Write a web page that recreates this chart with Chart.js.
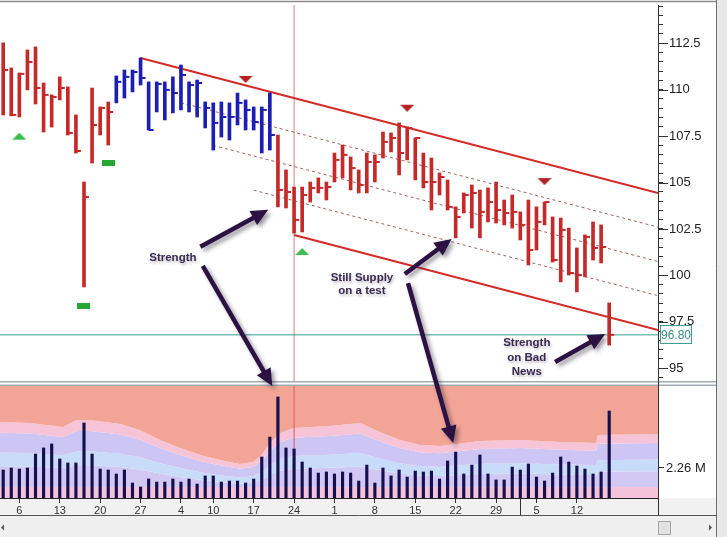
<!DOCTYPE html>
<html>
<head>
<meta charset="utf-8">
<script src="https://cdn.jsdelivr.net/npm/chart.js@4.4.0/dist/chart.umd.min.js"></script>
<style>
html, body { margin:0; padding:0; background:#fff; overflow:hidden; }
#wrap { position:relative; width:727px; height:537px; }
</style>
</head>
<body>
<div id="wrap"><canvas id="chart" width="727" height="537"></canvas></div>
<script>
// one entry per trading day, bar index 0..75
var highs = [112.52,111.17,110.90,112.14,112.30,110.36,109.72,110.69,110.15,108.64,105.03,110.09,109.07,109.34,
  110.74,111.06,111.06,111.71,110.42,110.42,110.42,110.69,111.33,110.42,110.52,109.34,109.29,109.34,109.29,109.82,109.45,109.07,109.07,109.82,
  107.56,105.68,104.76,104.76,105.03,105.25,105.03,106.59,107.02,106.38,105.68,106.59,106.49,107.72,107.67,108.21,107.99,107.40,106.59,106.32,105.52,105.14,
  103.69,104.44,104.87,104.60,104.71,105.03,104.06,104.33,103.42,104.06,103.69,103.95,103.15,103.09,102.55,101.48,102.18,102.88,102.72,98.52]
var lows = [108.64,108.59,108.53,109.99,109.23,107.72,107.99,109.45,107.56,106.59,99.38,106.05,107.56,107.02,
  109.29,109.55,109.88,110.25,107.83,108.80,108.37,108.75,108.91,108.80,108.53,107.94,106.75,107.45,107.29,108.10,107.83,107.83,106.59,106.75,
  103.69,103.63,102.28,102.34,103.95,104.44,104.06,105.03,105.25,104.60,104.44,104.44,105.03,106.32,106.65,105.41,106.22,105.14,104.71,103.52,104.33,103.52,
  102.02,103.36,102.55,102.02,102.88,102.82,102.72,102.55,101.91,100.56,101.37,102.72,100.72,99.65,100.02,99.11,99.92,100.83,100.67,96.25]
var closes = [111.06,108.64,110.85,111.49,110.09,109.72,109.61,110.09,107.67,106.70,104.22,108.10,109.02,108.80,
  110.42,110.69,110.95,110.63,107.83,110.31,109.99,109.82,110.79,110.25,110.36,109.02,108.21,108.53,108.53,109.29,108.91,108.26,108.91,107.56,
  104.60,104.49,102.99,104.33,104.71,104.71,104.76,106.22,106.49,105.78,104.87,106.11,106.11,107.19,107.40,106.59,107.94,107.40,105.03,105.03,105.30,103.69,
  103.15,104.33,104.44,103.42,103.95,103.52,103.36,103.42,102.72,101.37,102.88,103.95,100.83,102.45,100.13,100.02,102.07,101.48,101.53,96.80]
// volume in millions
var volumes = [2.11,2.26,2.18,2.26,3.31,3.77,4.07,2.94,2.64,2.64,5.65,3.31,2.18,2.11,1.81,2.11,1.13,0.83,1.43,1.20,
  1.20,1.43,1.20,1.43,1.05,1.66,1.66,1.20,1.28,1.28,1.13,1.43,3.09,4.59,7.61,3.77,3.69,2.71,2.26,1.88,
  1.96,1.81,1.96,1.88,1.28,2.48,1.13,2.26,1.66,2.11,1.58,2.03,1.96,2.03,1.43,2.79,3.46,1.81,2.48,3.24,
  1.81,1.36,1.36,2.33,2.11,2.56,1.58,1.28,1.88,3.09,2.71,2.41,2.18,1.81,1.96,6.55]

var blueFrom = 14, blueTo = 33          // bars painted blue
var dateTickIdx = [2,7,12,17,22,26,31,36,41,46,51,56,61,66,71]
var dateTickLabels = ['6','13','20','27','4','10','17','24','1','8','15','22','29','5','12']
var monthStartIdx = 64
var markerDayIdx = 36
var lastPrice = 96.80
var volTickValue = 2.26
var volTickLabel = '2.26 M'

// trend channel: top, 1/4, 1/2, 3/4, bottom
var channelStartIdx = [17, 22, 26, 31, 36]
var channelStartPrice = [111.71, 109.30, 107.00, 104.59, 102.18]
var channelEndPrice = [104.44, 102.60, 100.75, 98.91, 97.06]

// volume background bands (millions), sampled along the bar index
var bandIdx = [-0.4,3.3,7.4,9.1,10.7,14.5,16.9,19.4,21.9,24.4,26.8,29.3,30.9,32.0,33.0,34.3,35.9,40.4,44.2,46.6,49.1,51.6,54.1,59.0,64.0,68.9,73.4,73.6,81.04]
var bandSalmon = [5.72,5.65,5.35,5.87,5.87,5.57,5.12,4.37,3.77,3.24,2.86,2.56,2.71,3.24,4.14,4.89,5.27,5.42,5.65,4.97,4.37,3.99,3.92,4.29,4.37,4.22,4.14,4.74,4.82]
var bandPink = [4.92,4.86,4.60,5.05,5.05,4.79,4.40,3.76,3.24,2.79,2.46,2.20,2.33,2.79,3.56,4.21,4.53,4.66,4.86,4.27,3.76,3.43,3.37,3.69,3.76,3.63,3.56,4.08,4.15]
var bandLav = [3.43,3.39,3.21,3.52,3.52,3.34,3.07,2.62,2.26,1.94,1.72,1.54,1.63,1.94,2.48,2.93,3.16,3.25,3.39,2.98,2.62,2.39,2.35,2.57,2.62,2.53,2.48,2.84,2.89]
var bandBlue = [2.40,2.37,2.25,2.47,2.47,2.34,2.15,1.84,1.58,1.36,1.20,1.08,1.14,1.36,1.74,2.05,2.21,2.28,2.37,2.09,1.84,1.68,1.65,1.80,1.84,1.77,1.74,1.99,2.02]
var bandBase = 0.83

// signal markers
var upMarks = [{x:2, y:107.47}, {x:37, y:101.26}]
var downMarks = [{x:30, y:110.58}, {x:50, y:109.03}, {x:67, y:105.08}]
var stopMarks = [{x:13, y:106.03}, {x:10, y:98.36}]

// notes, anchored in bar index / price (or volume on 'yv')
var notes = [
  {lines:['Strength'], x:21.0, y:100.94, gap:14},
  {lines:['Still Supply', 'on a test'], x:44.4, y:99.86, gap:13},
  {lines:['Strength', 'on Bad', 'News'], x:64.8, y:96.36, gap:14.5}
]
var arrows = [
  {from:{x:24.4, y:101.54}, to:{x:32.8, y:103.53}},
  {from:{x:24.7, y:100.51}, to:{x:33.3, y:8.43, a:'yv'}},
  {from:{x:49.7, y:100.08}, to:{x:55.5, y:101.96}},
  {from:{x:50.1, y:99.59}, to:{x:55.7, y:4.14, a:'yv'}},
  {from:{x:68.3, y:95.34}, to:{x:74.5, y:96.85}}
]

var xMin = -0.396, xMax = 81.04
var priceMin = 94.315, priceMax = 114.56
var volMax = 8.81

Chart.defaults.font.family = '"Liberation Sans", Arial, sans-serif'

function barColor(i){
  return (i >= blueFrom && i <= blueTo) ? '#1d1fb2' : '#c42a2a'
}
function isMajor(v){
  return Math.abs(v/2.5 - Math.round(v/2.5)) < 1e-6
}
function pts(xs, ys){
  var out = []
  for (var k = 0; k < xs.length; k++) out.push({x: xs[k], y: ys[k]})
  return out
}
function markImg(kind){
  var c = document.createElement('canvas')
  var g = c.getContext('2d')
  if (kind == 'rect'){
    c.width = 13; c.height = 6
    g.fillStyle = '#27a834'; g.fillRect(0, 0, 13, 6)
  } else {
    c.width = 14; c.height = 8
    g.beginPath()
    if (kind == 'up'){ g.moveTo(0,7); g.lineTo(14,7); g.lineTo(7,0); g.fillStyle = '#3dbb4c' }
    else { g.moveTo(0,1); g.lineTo(14,1); g.lineTo(7,8); g.fillStyle = '#b42222' }
    g.closePath(); g.fill()
  }
  return c
}

var rangeData = [], closeData = [], volData = []
for (var i = 0; i < highs.length; i++){
  rangeData.push({x:i, y:[lows[i], highs[i]]})
  closeData.push({x:i, y:closes[i]})
  volData.push({x:i, y:volumes[i]})
}

var datasets = []
// volume bands (consecutive, filled one onto the next)
var bandColors = ['#f2a596', '#f6c4d6', '#cdc5f3', '#c8dcf9', '#d1c9f4', '#f4c3da']
var bandSeries = [bandSalmon, bandPink, bandLav, bandBlue]
var bandFill = ['end', '-1', '-1', '-1']
for (var b = 0; b < bandSeries.length; b++){
  datasets.push({type:'line', yAxisID:'yv', data: pts(bandIdx, bandSeries[b]), fill: bandFill[b],
    backgroundColor: bandColors[b], borderWidth:0, pointRadius:0, order:20})
}
datasets.push({type:'line', yAxisID:'yv', data: pts([xMin, xMax], [bandBase, bandBase]), fill:'-1',
  backgroundColor: bandColors[4], borderWidth:0, pointRadius:0, order:20})
datasets.push({type:'line', yAxisID:'yv', data: pts([xMin, xMax], [bandBase, bandBase]), fill:'start',
  backgroundColor: bandColors[5], borderWidth:0, pointRadius:0, order:20})

// vertical marker day line in both panes
datasets.push({type:'line', yAxisID:'y', data: pts([markerDayIdx, markerDayIdx], [priceMin, priceMax]),
  borderColor:'#e07a7a', borderWidth:1, pointRadius:0, order:16})
datasets.push({type:'line', yAxisID:'yv', data: pts([markerDayIdx, markerDayIdx], [0, volMax]),
  borderColor:'#e05a5a', borderWidth:1, pointRadius:0, order:16})

// last price line
datasets.push({type:'line', yAxisID:'y', data: pts([xMin, xMax], [lastPrice, lastPrice]),
  borderColor:'#3c9e90', borderWidth:1, pointRadius:0, order:15})

// channel
for (var c = 0; c < channelStartIdx.length; c++){
  var solid = (c == 0 || c == channelStartIdx.length - 1)
  datasets.push({type:'line', yAxisID:'y', data: pts([channelStartIdx[c], xMax], [channelStartPrice[c], channelEndPrice[c]]),
    borderColor: solid ? '#d42a28' : 'rgba(150,70,70,0.85)', borderWidth: solid ? 2 : 1,
    borderDash: solid ? [] : [3,3], pointRadius:0, order: solid ? 9 : 12})
}

datasets.push({type:'bar', yAxisID:'yv', data: volData, backgroundColor:'#15104d', barThickness:2.5, grouped:false, order:10})
datasets.push({type:'bar', yAxisID:'y', data: rangeData, backgroundColor: function(ctx){ return barColor(ctx.dataIndex) },
  barThickness:3, grouped:false, order:8})
datasets.push({type:'line', yAxisID:'y', data: closeData, showLine:false, pointStyle:'dash', pointRadius:5, pointHoverRadius:5,
  pointBorderWidth:2, pointBorderColor: function(ctx){ return barColor(ctx.dataIndex) }, order:7})

datasets.push({type:'line', yAxisID:'y', data: upMarks, showLine:false, pointStyle: markImg('up'), order:5})
datasets.push({type:'line', yAxisID:'y', data: downMarks, showLine:false, pointStyle: markImg('down'), order:5})
datasets.push({type:'line', yAxisID:'y', data: stopMarks, showLine:false, pointStyle: markImg('rect'), order:5})

function toPx(chart, p){
  return [chart.scales.x.getPixelForValue(p.x), chart.scales[p.a || 'y'].getPixelForValue(p.y)]
}
function drawArrow(ctx, a, b){
  var ang = Math.atan2(b[1]-a[1], b[0]-a[0]), head = 17, hw = 8
  var bx = b[0] - Math.cos(ang)*head, by = b[1] - Math.sin(ang)*head
  ctx.beginPath(); ctx.moveTo(a[0], a[1]); ctx.lineTo(bx + Math.cos(ang)*2, by + Math.sin(ang)*2)
  ctx.lineWidth = 4.5; ctx.strokeStyle = '#2c1243'; ctx.lineCap = 'butt'; ctx.stroke()
  ctx.beginPath(); ctx.moveTo(b[0], b[1])
  ctx.lineTo(bx + Math.sin(ang)*hw, by - Math.cos(ang)*hw)
  ctx.lineTo(bx - Math.sin(ang)*hw, by + Math.cos(ang)*hw)
  ctx.closePath(); ctx.fillStyle = '#2c1243'; ctx.fill()
}

var chromePlugin = {
  id: 'chrome',
  beforeDraw: function(chart){
    var ctx = chart.ctx
    ctx.save()
    ctx.fillStyle = '#ffffff'; ctx.fillRect(0, 0, 727, 537)
    ctx.fillStyle = '#f1f1f1'; ctx.fillRect(0, 498, 717, 17)
    ctx.fillStyle = '#efefef'; ctx.fillRect(0, 515, 717, 22)
    ctx.fillStyle = '#e8e8e8'; ctx.fillRect(717, 0, 10, 537)
    ctx.restore()
  },
  afterDraw: function(chart){
    var ctx = chart.ctx, ys = chart.scales.y, xs = chart.scales.x
    ctx.save()
    // longer major price ticks
    ctx.strokeStyle = '#333'; ctx.lineWidth = 1
    ys.ticks.forEach(function(t){
      if (!isMajor(t.value)) return
      var y = Math.round(ys.getPixelForValue(t.value)) + 0.5
      ctx.beginPath(); ctx.moveTo(658, y); ctx.lineTo(668, y); ctx.stroke()
    })
    // pane separator
    ctx.fillStyle = '#ffffff'; ctx.fillRect(0, 381, 717, 5)
    ctx.strokeStyle = '#a3acb4'; ctx.lineWidth = 1.5
    ctx.beginPath(); ctx.moveTo(0, 381.8); ctx.lineTo(717, 381.8); ctx.stroke()
    ctx.beginPath(); ctx.moveTo(0, 385.2); ctx.lineTo(717, 385.2); ctx.stroke()
    // frame
    ctx.strokeStyle = '#8a8a8a'; ctx.lineWidth = 1.5
    ctx.beginPath(); ctx.moveTo(0, 1.5); ctx.lineTo(717, 1.5); ctx.stroke()
    ctx.strokeStyle = '#6f6f6f'; ctx.lineWidth = 1
    ctx.beginPath(); ctx.moveTo(716.5, 0); ctx.lineTo(716.5, 537); ctx.stroke()
    ctx.strokeStyle = '#555'
    ctx.beginPath(); ctx.moveTo(0, 515.5); ctx.lineTo(717, 515.5); ctx.stroke()
    ctx.strokeStyle = '#333'
    ctx.beginPath(); ctx.moveTo(658.5, 381); ctx.lineTo(658.5, 515); ctx.stroke()
    var mx = Math.round(xs.getPixelForValue(monthStartIdx)) + 0.5
    ctx.beginPath(); ctx.moveTo(mx, 498); ctx.lineTo(mx, 515); ctx.stroke()
    // scroll bar
    ctx.fillStyle = '#e2e2e2'; ctx.fillRect(658, 521, 13, 14)
    ctx.strokeStyle = '#a8a8a8'; ctx.strokeRect(658.5, 521.5, 12, 13)
    ctx.fillStyle = '#555'
    ctx.beginPath(); ctx.moveTo(709, 524.5); ctx.lineTo(712, 527.5); ctx.lineTo(709, 530.5); ctx.fill()
    ctx.beginPath(); ctx.moveTo(4, 524.5); ctx.lineTo(1, 527.5); ctx.lineTo(4, 530.5); ctx.fill()
    // last price box
    var ly = ys.getPixelForValue(lastPrice)
    ctx.fillStyle = '#ffffff'; ctx.fillRect(660, ly - 9.5, 32, 19)
    ctx.strokeStyle = '#3c9e90'; ctx.strokeRect(660.5, Math.round(ly - 9.5) + 0.5, 31, 18)
    ctx.fillStyle = '#3a8f86'; ctx.font = '12px "Liberation Sans", Arial, sans-serif'
    ctx.textAlign = 'center'; ctx.textBaseline = 'middle'
    ctx.fillText(lastPrice.toFixed(2), 676, ly + 0.5)
    // notes and arrows
    ctx.shadowColor = 'rgba(40,30,50,0.45)'; ctx.shadowBlur = 4; ctx.shadowOffsetX = 3; ctx.shadowOffsetY = 3
    arrows.forEach(function(ar){ drawArrow(ctx, toPx(chart, ar.from), toPx(chart, ar.to)) })
    ctx.shadowColor = 'rgba(60,50,70,0.35)'; ctx.shadowBlur = 3; ctx.shadowOffsetX = 1; ctx.shadowOffsetY = 2
    ctx.font = 'bold 11.5px "Liberation Sans", Arial, sans-serif'
    ctx.fillStyle = '#3b2c52'
    notes.forEach(function(n){
      var p = toPx(chart, n)
      n.lines.forEach(function(s, k){ ctx.fillText(s, p[0], p[1] + k*n.gap) })
    })
    ctx.restore()
  }
}

new Chart(document.getElementById('chart'), {
  type: 'bar',
  data: { datasets: datasets },
  plugins: [chromePlugin],
  options: {
    responsive: false, animation: false, devicePixelRatio: 1, events: [],
    layout: { autoPadding: false, padding: { left:0, right:11, top:5, bottom:22 } },
    plugins: { legend: { display:false }, tooltip: { enabled:false } },
    scales: {
      x: {
        type:'linear', position:'bottom', min:xMin, max:xMax, offset:false,
        grid: { drawOnChartArea:false, offset:false, tickLength:5, tickColor:'#333' },
        border: { color:'#222' },
        afterBuildTicks: function(s){ s.ticks = dateTickIdx.map(function(v){ return {value:v} }) },
        ticks: { autoSkip:false, maxRotation:0, padding:1, color:'#333', font:{size:11},
          callback: function(v, k){ return dateTickLabels[k] } },
        afterFit: function(s){ s.height = 17; s.paddingLeft = 0; s.paddingRight = 0 }
      },
      y: {
        type:'linear', position:'right', stack:'pane', stackWeight:376, min:priceMin, max:priceMax, offset:false,
        grid: { drawOnChartArea:false, tickLength:5, tickColor:'#333' },
        border: { color:'#333' },
        ticks: { stepSize:0.5, autoSkip:false, includeBounds:false, padding:6, color:'#222', font:{size:13},
          callback: function(v){ return isMajor(v) ? String(Math.round(v*10)/10) : '' } },
        afterFit: function(s){ s.width = 58; s.paddingTop = 0; s.paddingBottom = 0 }
      },
      yv: {
        type:'linear', position:'right', stack:'pane', stackWeight:117, min:0, max:volMax, offset:false,
        grid: { drawOnChartArea:false, tickLength:6, tickColor:'#333' },
        border: { color:'#333' },
        afterBuildTicks: function(s){ s.ticks = [{value: volTickValue}] },
        ticks: { padding:2, color:'#222', font:{size:13}, callback: function(){ return volTickLabel } },
        afterFit: function(s){ s.width = 58; s.paddingTop = 0; s.paddingBottom = 0 }
      }
    }
  }
})
</script>
</body>
</html>
